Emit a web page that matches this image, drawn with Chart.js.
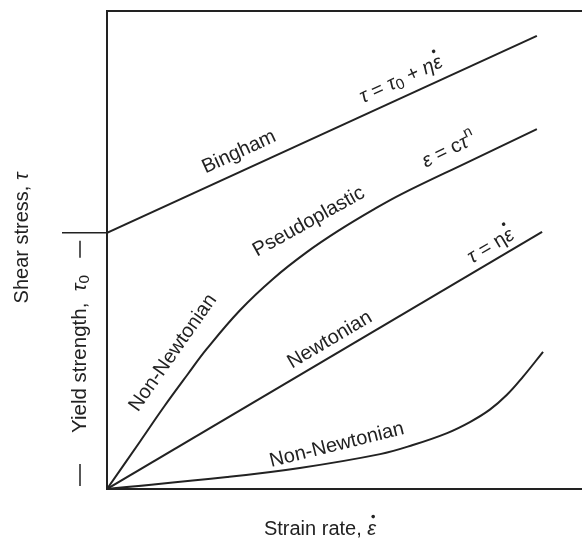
<!DOCTYPE html>
<html>
<head>
<meta charset="utf-8">
<script src="https://cdn.jsdelivr.net/npm/chart.js@4.4.1/dist/chart.umd.min.js"></script>
<style>
  html, body { margin: 0; padding: 0; background: #fff; }
  #wrap { width: 582px; height: 542px; }
</style>
</head>
<body>
<div id="wrap"><canvas id="flowChart"></canvas></div>
<script>
// strain rate (x) vs shear stress (y), arbitrary units 0..10
const yieldStrength = 5.36;

const binghamX = [0, 9.05];
const binghamY = [5.36, 9.48];

const pseudoX = [0, 0.7, 1.2, 1.7, 2.1, 2.8, 3.5, 4.2, 4.9, 5.6, 6.2, 7.6, 9.05];
const pseudoY = [0, 1.0, 1.72, 2.4, 2.93, 3.74, 4.4, 4.95, 5.42, 5.84, 6.17, 6.84, 7.53];

const newtonX = [0, 9.16];
const newtonY = [0, 5.38];

const dilatantX = [0, 2.53, 4.06, 5.75, 6.44, 7.16, 7.64, 8.06, 8.42, 8.76, 9.18];
const dilatantY = [0, 0.25, 0.44, 0.73, 0.92, 1.17, 1.4, 1.66, 1.97, 2.35, 2.87];

const toPoints = (xs, ys) => xs.map((x, i) => ({ x: x, y: ys[i] }));

const FONT = '"Liberation Sans", Arial, sans-serif';
const INK = '#222';

// curve labels: runs of [text, style]; style: '' | 'i' (italic) | 'sub' | 'sup' | 'dot' (italic with dot above)
const curveLabels = [
  { x: 2.78, y: 7.05, angle: 24.6, runs: [['Bingham', '']] },
  { x: 6.19, y: 8.56, angle: 24.6, runs: [['τ', 'i'], [' = ', ''], ['τ', 'i'], ['0', 'sub'], [' + ', ''], ['η', 'i'], ['ε', 'dot']] },
  { x: 4.25, y: 5.59, angle: 29, runs: [['Pseudoplastic', '']] },
  { x: 7.2, y: 7.09, angle: 26, runs: [['ε', 'i'], [' = ', ''], ['c', ''], ['τ', 'i'], ['n', 'sup']] },
  { x: 1.39, y: 2.85, angle: 55, runs: [['Non-Newtonian', '']] },
  { x: 4.69, y: 3.12, angle: 30.6, runs: [['Newtonian', '']] },
  { x: 8.08, y: 5.08, angle: 30.6, runs: [['τ', 'i'], [' = ', ''], ['η', ''], ['ε', 'dot']] },
  { x: 4.84, y: 0.92, angle: 14, runs: [['Non-Newtonian', '']] }
];

function runFont(style, size) {
  if (style === 'sub' || style === 'sup') return (size * 0.75) + 'px ' + FONT;
  if (style === 'i' || style === 'dot') return 'italic ' + size + 'px ' + FONT;
  return size + 'px ' + FONT;
}

function drawRuns(ctx, runs, cx, cy, angleDeg, size) {
  ctx.save();
  ctx.translate(cx, cy);
  ctx.rotate(-angleDeg * Math.PI / 180);
  ctx.fillStyle = INK;
  ctx.textBaseline = 'middle';
  ctx.textAlign = 'left';
  let total = 0;
  const widths = runs.map(r => {
    ctx.font = runFont(r[1], size);
    const w = ctx.measureText(r[0]).width;
    total += w;
    return w;
  });
  let x = -total / 2;
  runs.forEach((r, i) => {
    ctx.font = runFont(r[1], size);
    let dy = 0;
    if (r[1] === 'sub') dy = size * 0.22;
    if (r[1] === 'sup') dy = -size * 0.38;
    ctx.fillText(r[0], x, dy);
    if (r[1] === 'dot') {
      ctx.beginPath();
      ctx.arc(x + widths[i] / 2 + 1.5, -size * 0.62, 1.8, 0, Math.PI * 2);
      ctx.fill();
    }
    x += widths[i];
  });
  ctx.restore();
}

const annotate = {
  id: 'annotate',
  afterDraw(chart) {
    const ctx = chart.ctx;
    const xs = chart.scales.x, ys = chart.scales.y;
    const area = chart.chartArea;

    // top frame line
    ctx.save();
    ctx.strokeStyle = INK;
    ctx.lineWidth = 2;
    ctx.beginPath();
    ctx.moveTo(area.left - 1, area.top);
    ctx.lineTo(area.right, area.top);
    ctx.stroke();

    // yield strength tick on the stress axis
    const yTau = ys.getPixelForValue(yieldStrength);
    ctx.lineWidth = 1.5;
    ctx.beginPath();
    ctx.moveTo(area.left - 45, yTau);
    ctx.lineTo(area.left, yTau);
    ctx.stroke();

    // dimension dashes around the yield strength label
    const dashX = area.left - 27;
    ctx.beginPath();
    ctx.moveTo(dashX, yTau + 8);
    ctx.lineTo(dashX, yTau + 25);
    ctx.moveTo(dashX, area.bottom - 25);
    ctx.lineTo(dashX, area.bottom - 3);
    ctx.stroke();
    ctx.restore();

    curveLabels.forEach(l => {
      drawRuns(ctx, l.runs, xs.getPixelForValue(l.x), ys.getPixelForValue(l.y), l.angle, 20);
    });

    // axis titles
    drawRuns(ctx, [['Shear stress, ', ''], ['τ', 'i']], area.left - 85, 238, 90, 20);
    drawRuns(ctx, [['Yield strength,  ', ''], ['τ', 'i'], ['0', 'sub']], area.left - 27, 354, 90, 20.5);
    drawRuns(ctx, [['Strain rate, ', ''], ['ε', 'dot']], 320, 529, 0, 20);
  }
};

const lineStyle = {
  borderColor: INK,
  borderWidth: 2,
  pointRadius: 0,
  fill: false
};

const ctxFlow = document.getElementById('flowChart').getContext('2d');
new Chart(ctxFlow, {
  type: 'line',
  data: {
    datasets: [
      Object.assign({ label: 'Bingham', data: toPoints(binghamX, binghamY) }, lineStyle),
      Object.assign({ label: 'Pseudoplastic', data: toPoints(pseudoX, pseudoY), tension: 0.4 }, lineStyle),
      Object.assign({ label: 'Newtonian', data: toPoints(newtonX, newtonY) }, lineStyle),
      Object.assign({ label: 'Non-Newtonian', data: toPoints(dilatantX, dilatantY), tension: 0.4 }, lineStyle)
    ]
  },
  options: {
    responsive: true,
    maintainAspectRatio: false,
    animation: false,
    layout: { padding: { left: 107, top: 11, right: 0, bottom: 53 } },
    plugins: { legend: { display: false }, tooltip: { enabled: false } },
    scales: {
      x: {
        type: 'linear', min: 0, max: 10,
        ticks: { display: false },
        grid: { display: false, drawTicks: false },
        border: { display: true, color: INK, width: 2 }
      },
      y: {
        type: 'linear', min: 0, max: 10,
        ticks: { display: false },
        grid: { display: false, drawTicks: false },
        border: { display: true, color: INK, width: 2 }
      }
    }
  },
  plugins: [annotate]
});
</script>
</body>
</html>
